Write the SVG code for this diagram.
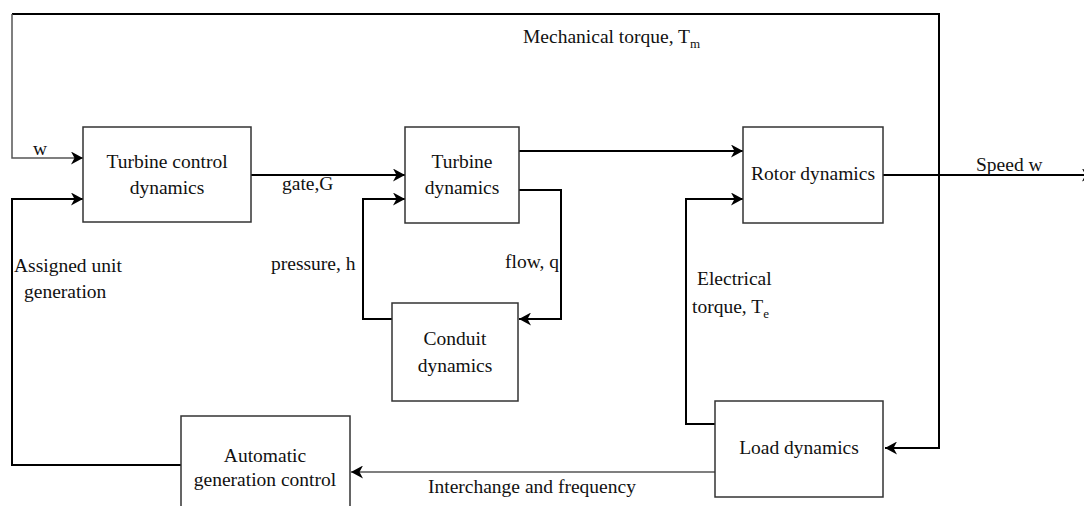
<svg xmlns="http://www.w3.org/2000/svg" width="1084" height="506" viewBox="0 0 1084 506">
  <style>
    .box { fill: #ffffff; stroke: #333333; stroke-width: 1.5; }
    .wire { fill: none; stroke: #000000; stroke-width: 2; }
    .thin { fill: none; stroke: #555555; stroke-width: 1.5; }
    text { font-family: "Liberation Serif", "Times New Roman", serif; font-size: 19.5px; fill: #111111; }
    .mid { text-anchor: middle; }
    .sub { font-size: 13px; }
  </style>
  <defs>
    <marker id="arrow" markerUnits="userSpaceOnUse" markerWidth="13" markerHeight="13" refX="12" refY="6.5" orient="auto">
      <path d="M0,0 L12,6.5 L0,13 L3.5,6.5 z" fill="#000000"/>
    </marker>
  </defs>

  <!-- connectors -->
  <g id="connectors">
    <path class="wire" d="M12,14 H939 V448 H885" marker-end="url(#arrow)"/>
    <path class="thin" d="M12,14 V158 H83" marker-end="url(#arrow)"/>
    <path class="wire" d="M181,465 H12 V199 H83" marker-end="url(#arrow)"/>
    <path class="wire" d="M251,175 H405" marker-end="url(#arrow)"/>
    <path class="wire" d="M392,319 H363 V199 H405" marker-end="url(#arrow)"/>
    <path class="wire" d="M519,151 H743" marker-end="url(#arrow)"/>
    <path class="wire" d="M519,190 H561 V319 H519" marker-end="url(#arrow)"/>
    <path class="wire" d="M715,424 H686 V199 H743" marker-end="url(#arrow)"/>
    <path class="wire" d="M883,175 H1094" marker-end="url(#arrow)"/>
    <path class="thin" d="M715,472 H351" marker-end="url(#arrow)"/>
  </g>

  <!-- connector labels -->
  <g id="labels">
    <text x="523" y="43">Mechanical torque, T<tspan class="sub" dy="5">m</tspan></text>
    <text x="33" y="155">w</text>
    <text x="282" y="190">gate,G</text>
    <text x="271" y="270">pressure, h</text>
    <text x="505" y="268">flow, q</text>
    <text x="14" y="272">Assigned unit</text>
    <text x="24" y="298">generation</text>
    <text x="697" y="285">Electrical</text>
    <text x="692" y="313">torque, T<tspan class="sub" dy="5">e</tspan></text>
    <text x="976" y="171">Speed w</text>
    <text x="428" y="493">Interchange and frequency</text>
  </g>

  <g id="turbine-control">
    <rect class="box" x="83" y="127" width="168" height="95"/>
    <text class="mid" x="167" y="168">Turbine control</text>
    <text class="mid" x="167" y="194">dynamics</text>
  </g>

  <g id="turbine">
    <rect class="box" x="405" y="127" width="114" height="96"/>
    <text class="mid" x="462" y="168">Turbine</text>
    <text class="mid" x="462" y="194">dynamics</text>
  </g>

  <g id="conduit">
    <rect class="box" x="392" y="303" width="126" height="98"/>
    <text class="mid" x="455" y="345">Conduit</text>
    <text class="mid" x="455" y="372">dynamics</text>
  </g>

  <g id="rotor">
    <rect class="box" x="743" y="127" width="140" height="96"/>
    <text class="mid" x="813" y="180">Rotor dynamics</text>
  </g>

  <g id="load">
    <rect class="box" x="715" y="401" width="168" height="96"/>
    <text class="mid" x="799" y="454">Load dynamics</text>
  </g>

  <g id="agc">
    <rect class="box" x="181" y="416" width="169" height="100"/>
    <text class="mid" x="265" y="462">Automatic</text>
    <text class="mid" x="265" y="486">generation control</text>
  </g>
</svg>
